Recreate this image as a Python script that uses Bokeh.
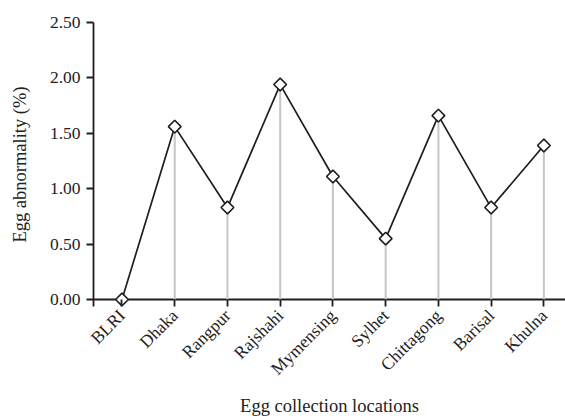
import math
from bokeh.plotting import figure
from bokeh.models import Range1d, FixedTicker, Span
from bokeh.embed import file_html
from bokeh.resources import INLINE

locations = ["BLRI", "Dhaka", "Rangpur", "Rajshahi", "Mymensing", "Sylhet",
             "Chittagong", "Barisal", "Khulna"]
abnormality = [0.00, 1.56, 0.83, 1.94, 1.11, 0.55, 1.66, 0.83, 1.39]
y_ticks = [0.0, 0.5, 1.0, 1.5, 2.0, 2.5]

xs = list(range(len(locations)))

FONT = "Liberation Serif"
INK = "#1e1e1e"

p = figure(width=565, height=418, output_backend="svg", toolbar_location=None,
           x_range=Range1d(-0.54, 8.41), y_range=Range1d(-0.063, 2.5),
           min_border_left=93, min_border_right=0, min_border_top=22,
           min_border_bottom=111)
p.outline_line_color = None
p.xgrid.visible = False
p.ygrid.visible = False

# x baseline at zero (the y axis continues a little below it, as in the original)
p.add_layout(Span(location=0, dimension="width", line_color=INK,
                  line_width=1.8, level="underlay"))

# drop lines
p.segment(x0=xs, y0=[0] * len(xs), x1=xs, y1=abnormality,
          line_color="#c6c6c6", line_width=2)
# connecting line
p.line(xs, abnormality, line_color=INK, line_width=1.7)
p.scatter(xs, abnormality, marker="square", angle=math.pi / 4, size=9,
          fill_color="white", line_color=INK, line_width=1.6)

p.xaxis.ticker = FixedTicker(ticks=xs)
p.xaxis.major_label_overrides = {i: n for i, n in enumerate(locations)}
p.xaxis.major_label_orientation = math.pi / 4
p.yaxis.ticker = FixedTicker(ticks=y_ticks)
p.yaxis.major_label_overrides = {t: f"{t:.2f}" for t in y_ticks}

for ax in (p.xaxis, p.yaxis):
    ax.axis_line_color = INK
    ax.axis_line_width = 1.8
    ax.major_tick_line_color = INK
    ax.major_tick_line_width = 1.8
    ax.minor_tick_line_color = None
    ax.major_label_text_font = FONT
    ax.major_label_text_font_size = "17.5px"
    ax.major_label_text_color = "#222222"
    ax.axis_label_text_font = FONT
    ax.axis_label_text_font_size = "18.5px"
    ax.axis_label_text_font_style = "normal"
    ax.axis_label_text_color = "#222222"

p.yaxis.major_tick_out = 7
p.yaxis.major_tick_in = 0
p.xaxis.axis_line_color = None
p.xaxis.major_tick_out = 0
p.xaxis.major_tick_in = 7

p.xaxis.axis_label = "Egg collection locations"
p.yaxis.axis_label = "Egg abnormality (%)"
p.xaxis.major_label_standoff = 6
p.yaxis.major_label_standoff = 6
p.xaxis.axis_label_standoff = 7
p.yaxis.axis_label_standoff = 17

open("out.html", "w").write(file_html(p, INLINE))
